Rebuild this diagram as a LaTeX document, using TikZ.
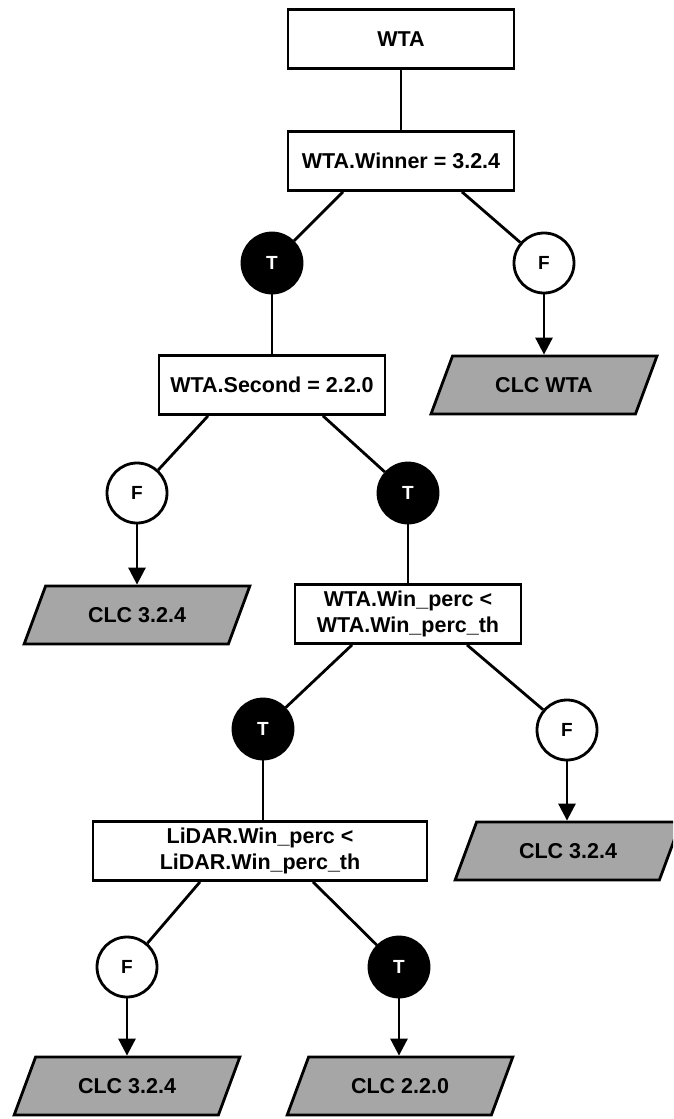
\documentclass[tikz,border=0pt]{standalone}
\usepackage{fontspec}
\setmainfont{Liberation Sans}
\usetikzlibrary{shapes.geometric, arrows.meta, calc}
\definecolor{clcgray}{RGB}{166, 166, 166}
\tikzset{
  condbox/.style={draw, line width=2.8pt, fill=white, minimum width=226pt, minimum height=59pt, inner sep=3pt, align=center, font=\fontsize{21.5}{26}\selectfont\bfseries},
  tnode/.style={circle, draw, line width=2.8pt, fill=black, text=white, minimum size=60pt, inner sep=0pt, font=\fontsize{19}{20}\selectfont\bfseries},
  fnode/.style={tnode, fill=white, text=black},
  clcbox/.style={trapezium, trapezium left angle=53, trapezium right angle=127, trapezium stretches=true, draw, line width=2.8pt, fill=clcgray, minimum width=226pt, minimum height=58pt, inner sep=0pt, font=\fontsize{21.5}{26}\selectfont\bfseries},
  link/.style={line width=2.8pt},
  flow/.style={line width=2.8pt, -{Triangle[length=17pt, width=17pt]}}
}

\begin{document}
\begin{tikzpicture}[x=1pt, y=-1pt]
  \clip (0,0) rectangle (673,1119);

  % decisions
  \node[condbox] (wta)     at (401,39)  {WTA};
  \node[condbox] (winner)  at (401,161) {WTA.Winner = 3.2.4};
  \node[condbox] (second)  at (272,385) {WTA.Second = 2.2.0};
  \node[condbox] (winperc) at (408,614) {WTA.Win\_perc <\\WTA.Win\_perc\_th};
  \node[condbox, minimum width=334pt] (lidar) at (260,851) {LiDAR.Win\_perc <\\LiDAR.Win\_perc\_th};

  % true / false branches
  \node[tnode] (tA) at (272,263) {T};
  \node[fnode] (fA) at (544,263) {F};
  \node[fnode] (fB) at (137,493) {F};
  \node[tnode] (tB) at (408,493) {T};
  \node[tnode] (tC) at (263,729) {T};
  \node[fnode] (fC) at (567,730) {F};
  \node[fnode] (fD) at (127,967) {F};
  \node[tnode] (tD) at (399,967) {T};

  % outcomes
  \node[clcbox] (clcwta)  at (544,385)  {CLC WTA};
  \node[clcbox] (clcB)    at (137,615)  {CLC 3.2.4};
  \node[clcbox] (clcC)    at (568,851)  {CLC 3.2.4};
  \node[clcbox] (clcD)    at (127,1086) {CLC 3.2.4};
  \node[clcbox] (clcE)    at (400,1086) {CLC 2.2.0};

  \draw[link] (wta) -- (winner);
  \draw[link] ([xshift=-58pt]winner.south) -- (tA);
  \draw[link] ([xshift=61pt]winner.south) -- (fA);
  \draw[link] (tA) -- (second);
  \draw[flow] (fA) -- (fA |- clcwta.north);

  \draw[link] ([xshift=-64pt]second.south) -- (fB);
  \draw[link] ([xshift=51pt]second.south) -- (tB);
  \draw[flow] (fB) -- (fB |- clcB.north);
  \draw[link] (tB) -- (winperc);

  \draw[link] ([xshift=-56pt]winperc.south) -- (tC);
  \draw[link] ([xshift=59pt]winperc.south) -- (fC);
  \draw[link] (tC) -- (tC |- lidar.north);
  \draw[flow] (fC) -- (fC |- clcC.north);

  \draw[link] ([xshift=-60pt]lidar.south) -- (fD);
  \draw[link] ([xshift=53pt]lidar.south) -- (tD);
  \draw[flow] (fD) -- (fD |- clcD.north);
  \draw[flow] (tD) -- (tD |- clcE.north);
\end{tikzpicture}
\end{document}
